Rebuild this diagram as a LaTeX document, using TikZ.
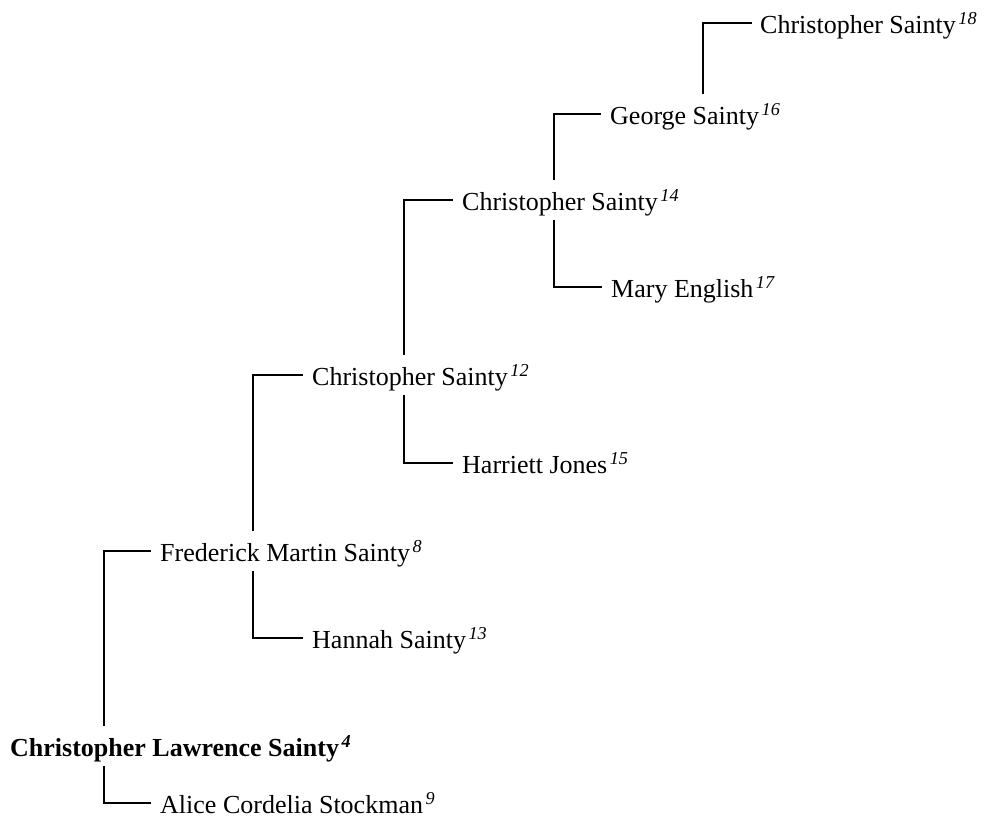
\documentclass[tikz,border=0pt]{standalone}
\usepackage{fontspec}
\setmainfont{Liberation Serif}
\tikzstyle{person}=[anchor=west,inner sep=0pt,text height=26.5pt,text depth=5.7pt]
\tikzstyle{link}=[line width=1.2pt]
\tikzstyle{every node}=[font=\fontsize{26}{31}\selectfont]
\newcommand{\refno}[1]{\kern2.5pt\textsuperscript{\itshape #1}}

\begin{document}
\begin{tikzpicture}[x=1pt,y=-1pt]
    \useasboundingbox (0,0) rectangle (986,832);
    \node[person,font=\fontsize{26}{31}\selectfont\bfseries] (cls) at (10,746) {Christopher Lawrence Sainty\refno{4}};
    \node[person] (alice) at (160,803) {Alice Cordelia Stockman\refno{9}};
    \node[person] (frederick) at (160,551) {Frederick Martin Sainty\refno{8}};
    \node[person] (hannah) at (312,638) {Hannah Sainty\refno{13}};
    \node[person] (c12) at (312,375) {Christopher Sainty\refno{12}};
    \node[person] (harriett) at (462,463) {Harriett Jones\refno{15}};
    \node[person] (c14) at (462,200) {Christopher Sainty\refno{14}};
    \node[person] (mary) at (611,287) {Mary English\refno{17}};
    \node[person] (george) at (610,114) {George Sainty\refno{16}};
    \node[person] (c18) at (760,23) {Christopher Sainty\refno{18}};

    \draw[link] ([xshift=94pt,yshift=4pt]cls.north west) |- ([xshift=-9pt]frederick.west);
    \draw[link] ([xshift=94pt,yshift=-4pt]cls.south west) |- ([xshift=-9pt]alice.west);
    \draw[link] ([xshift=93pt,yshift=4pt]frederick.north west) |- ([xshift=-9pt]c12.west);
    \draw[link] ([xshift=93pt,yshift=-4pt]frederick.south west) |- ([xshift=-9pt]hannah.west);
    \draw[link] ([xshift=92pt,yshift=4pt]c12.north west) |- ([xshift=-9pt]c14.west);
    \draw[link] ([xshift=92pt,yshift=-4pt]c12.south west) |- ([xshift=-9pt]harriett.west);
    \draw[link] ([xshift=92pt,yshift=4pt]c14.north west) |- ([xshift=-9pt]george.west);
    \draw[link] ([xshift=92pt,yshift=-4pt]c14.south west) |- ([xshift=-9pt]mary.west);
    \draw[link] ([xshift=93pt,yshift=4pt]george.north west) |- ([xshift=-8pt]c18.west);
\end{tikzpicture}
\end{document}
